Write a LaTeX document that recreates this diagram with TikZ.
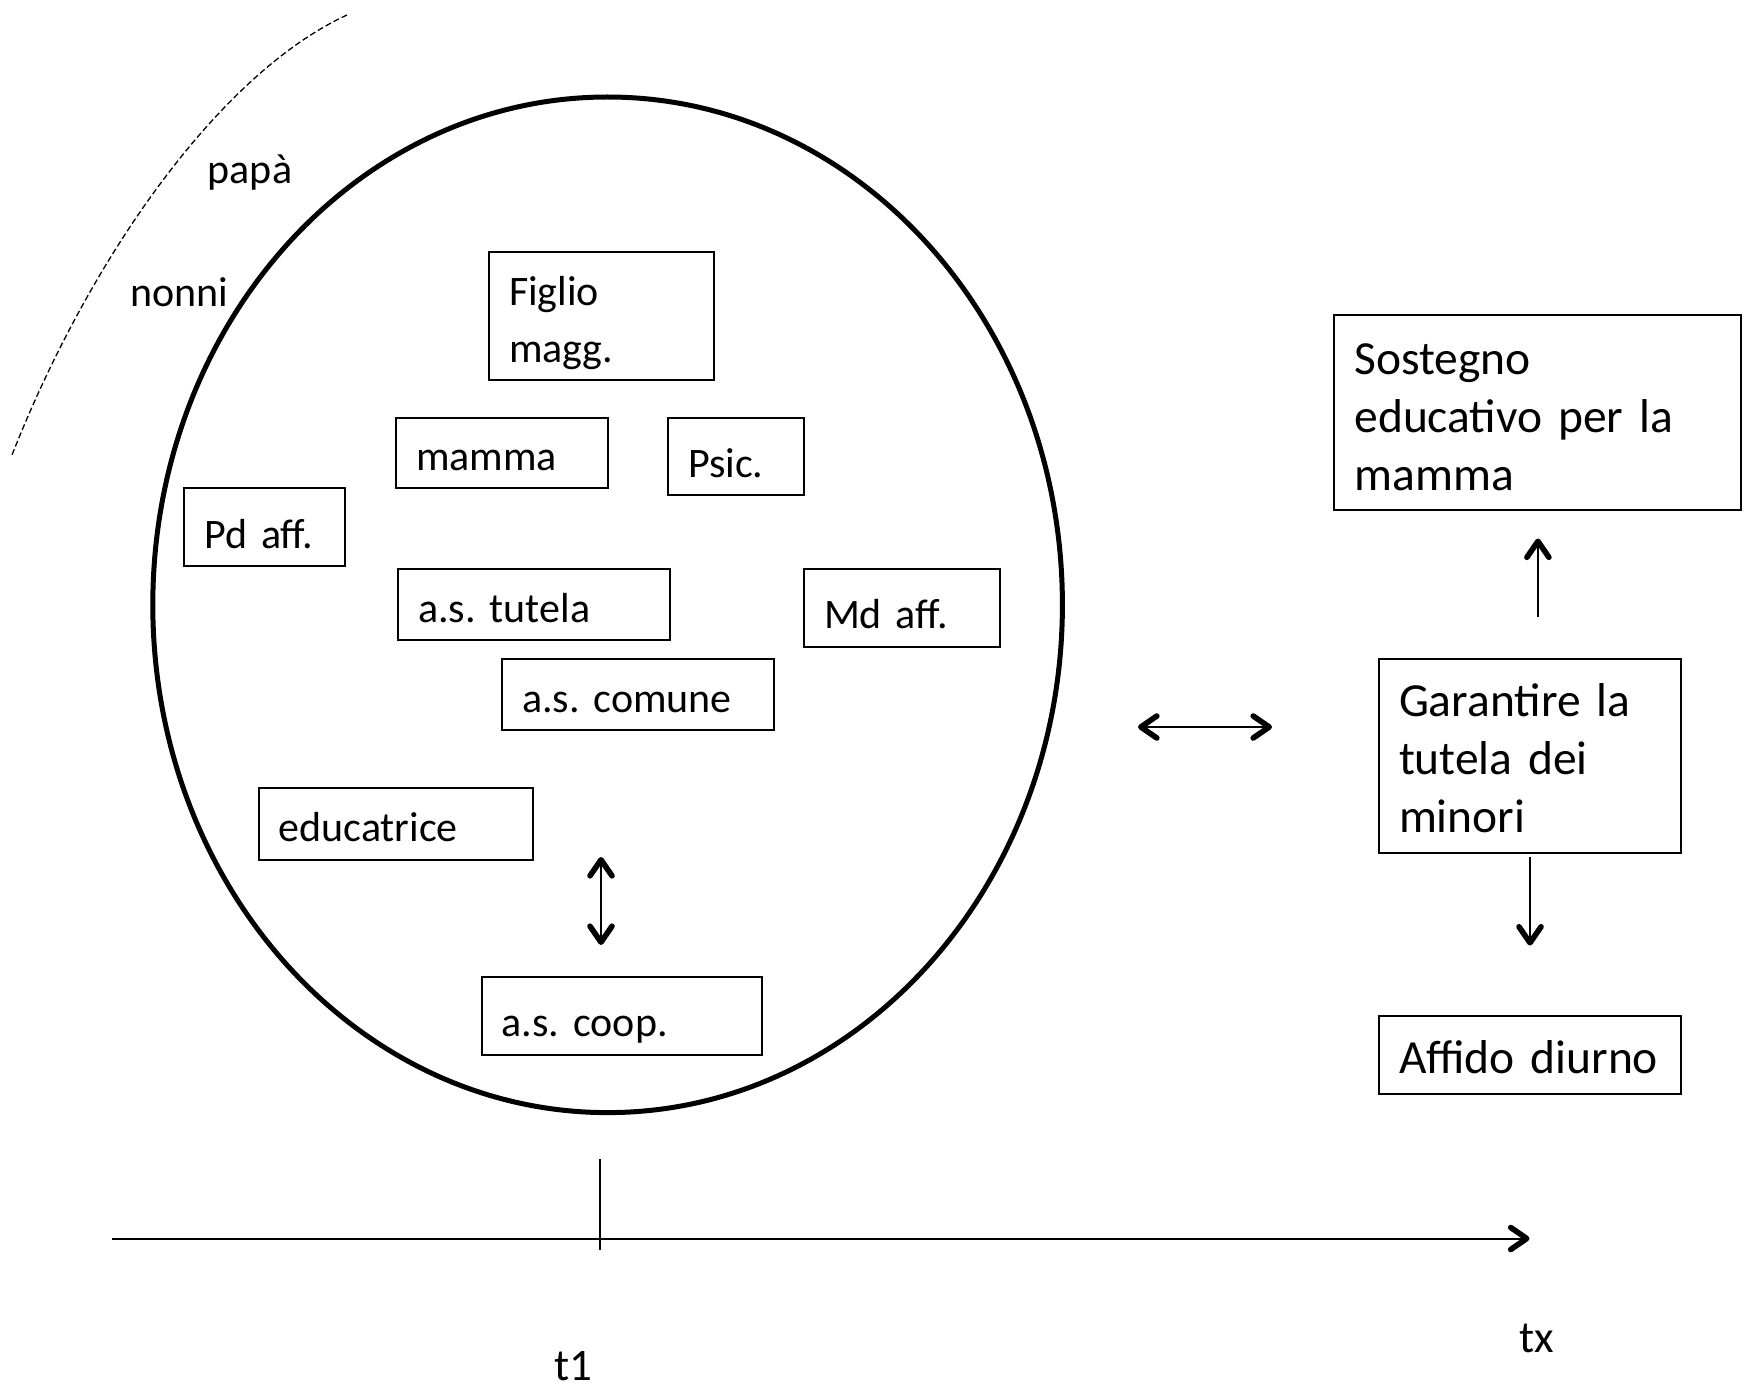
\documentclass[tikz,border=0pt]{standalone}
\usepackage{fontspec}
\setmainfont{Carlito}
\usetikzlibrary{shapes.geometric,arrows.meta}
\frenchspacing

\begin{document}
\begin{tikzpicture}[x=.5pt,y=-.5pt,
		>={Straight Barb[length=8pt,width=11pt,line width=2.8pt,round]},
		box/.style={draw,line width=1pt,anchor=north west,align=left,inner xsep=10pt,inner ysep=0pt,outer sep=0pt,text depth=9pt,font=\fontsize{21}{28.5}\selectfont},
		bigbox/.style={box,font=\fontsize{23.75}{29}\selectfont},
		lbl/.style={inner sep=0pt,font=\fontsize{21}{25}\selectfont},
		arr/.style={line width=1pt}]
		\useasboundingbox (0,0) rectangle (1748,1390);
		
		% outer family
		\draw [dashed,line width=.65pt,dash pattern=on 3pt off 1.5pt] (347,15) .. controls (217,75) and (88,262) .. (12,455);
		\node [lbl] (papa) at (250,173) {papà};
		\node [lbl] (nonni) at (179.5,292) {nonni};
		
		% the network
		\node [draw,ellipse,line width=2.5pt,inner sep=0pt,minimum width=454.8pt,minimum height=507.8pt] (rete) at (607.6,604.8) {};
		\node [box,text width=92.5pt,text height=26.7pt,text depth=37.3pt] (figlio) at (489,252) {Figlio\\magg.};
		\node [box,text width=86pt,text height=26pt] (mamma) at (396,418) {mamma};
		\node [box,text width=48pt,text height=29.5pt] (psic) at (668,418) {Psic.};
		\node [box,text width=60.25pt,text height=30pt] (pdaff) at (184,488) {Pd aff.};
		\node [box,text width=116pt,text height=26.75pt] (astutela) at (398,568.5) {a.s. tutela};
		\node [box,text width=78pt,text height=30pt] (mdaff) at (804,568.5) {Md aff.};
		\node [box,text width=116pt,text height=26.5pt] (ascomune) at (502,659) {a.s. comune};
		\node [box,text width=117pt,text height=26.75pt] (educ) at (258.6,788) {educatrice};
		\node [box,text width=120pt,text height=30pt] (ascoop) at (481.6,976.6) {a.s. coop.};
		\coordinate (up) at (601,857); \coordinate (dn) at (601,945);
		\draw [arr,<->] (up) -- (dn);
		
		% goals
		\node [bigbox,text width=183.5pt,text height=29.7pt,text depth=67.3pt] (sostegno) at (1334.4,315.5) {Sostegno\\educativo per la\\mamma};
		\node [bigbox,text width=131pt,text height=28.5pt,text depth=68.5pt] (garantire) at (1379,659) {Garantire la\\tutela dei\\minori};
		\node [bigbox,text width=131pt,text height=29.1pt,text depth=9.9pt] (affido) at (1379,1015.6) {Affido diurno};
		\draw [arr,->,shorten <=21pt,shorten >=14.5pt] (garantire.north -| sostegno.south) -- (sostegno.south);
		\draw [arr,->,shorten <=2pt,shorten >=35pt] (garantire.south) -- (affido.north);
		\coordinate (sx) at (1138,727); \coordinate (dx) at (1272,727);
		\draw [arr,<->] (sx) -- (dx);
		
		% time
		\coordinate (t0) at (111.5,1238.5); \coordinate (tend) at (1529.5,1238.5);
		\draw [arr,->] (t0) -- (tend);
		\coordinate (ta) at (600,1159); \coordinate (tb) at (600,1250);
		\draw [arr] (ta) -- (tb);
		\node [lbl,font=\fontsize{22.5}{26}\selectfont] (t1) at (573,1366) {t1};
		\node [lbl,font=\fontsize{22.5}{26}\selectfont] (tx) at (1537,1338) {tx};
\end{tikzpicture}
\end{document}
